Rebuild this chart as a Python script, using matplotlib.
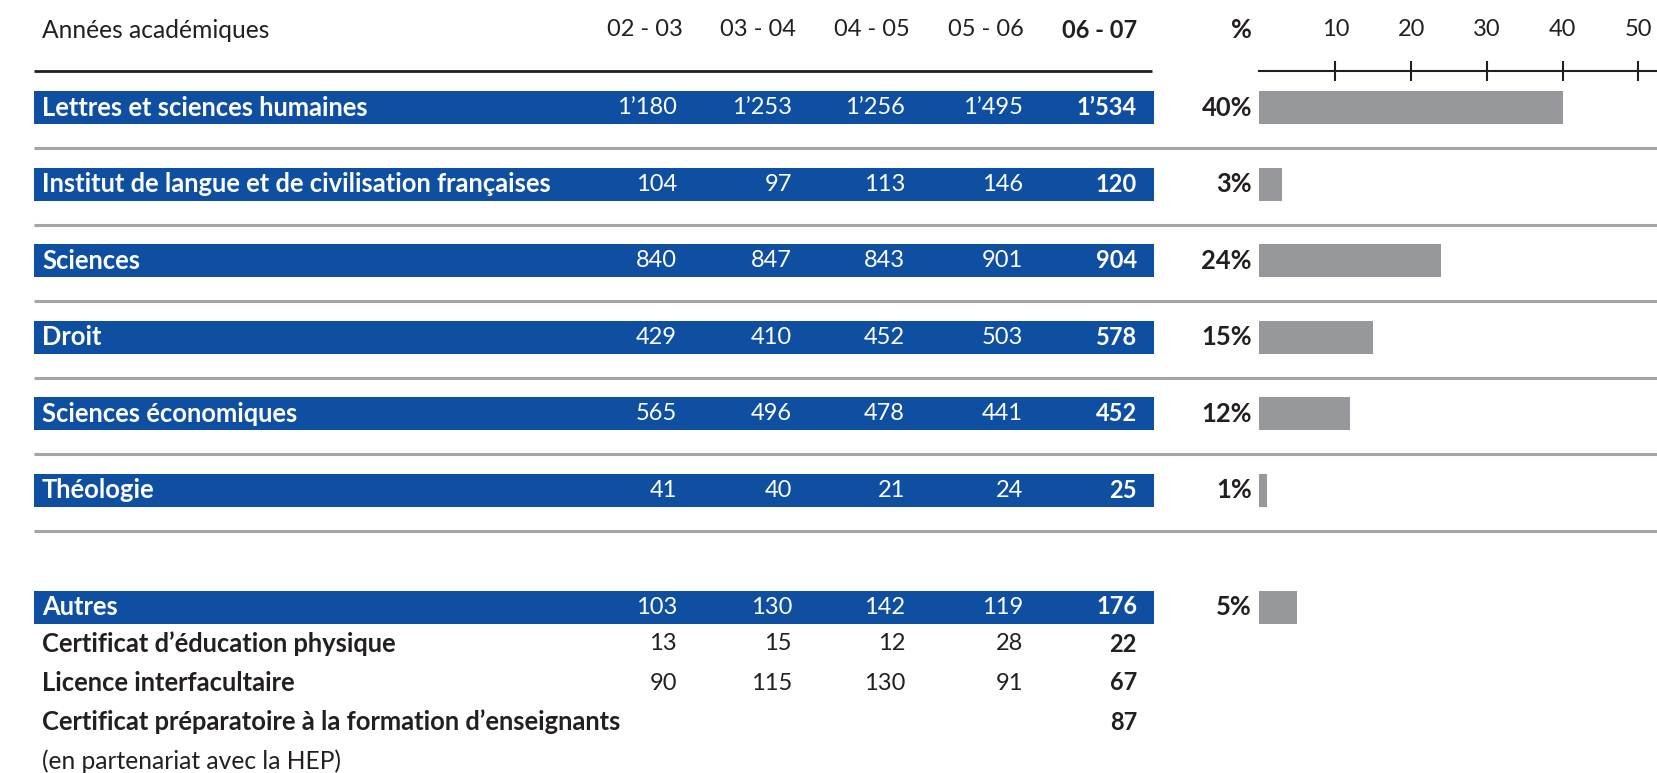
import matplotlib.pyplot as plt

plt.rcParams['font.family'] = ['Lato', 'DejaVu Sans']

years = ["02 - 03", "03 - 04", "04 - 05", "05 - 06", "06 - 07"]
faculties = ["Lettres et sciences humaines",
             "Institut de langue et de civilisation françaises",
             "Sciences", "Droit", "Sciences économiques", "Théologie"]
lettres = [1180, 1253, 1256, 1495, 1534]
ilcf = [104, 97, 113, 146, 120]
sciences = [840, 847, 843, 901, 904]
droit = [429, 410, 452, 503, 578]
hec = [565, 496, 478, 441, 452]
theologie = [41, 40, 21, 24, 25]
faculty_pct = [40, 3, 24, 15, 12, 1]

autres = [103, 130, 142, 119, 176]
autres_pct = 5
sub_labels = ["Certificat d’éducation physique", "Licence interfacultaire",
              "Certificat préparatoire à la formation d’enseignants"]
sub_values = [[13, 15, 12, 28, 22],
              [90, 115, 130, 91, 67],
              [None, None, None, None, 87]]
note = "(en partenariat avec la HEP)"
pct_ticks = [10, 20, 30, 40, 50]

blue = '#0f4fa2'
gray_bar = '#97989b'
gray_line = '#a4a5a8'
ink = '#231f20'

W, H = 1658, 773
fig = plt.figure(figsize=(W / 100, H / 100), dpi=100)
ax = fig.add_axes([0, 0, 1, 1])
ax.set_xlim(0, W)
ax.set_ylim(H, 0)
ax.axis('off')


def fmt(v):
    if v is None:
        return ""
    return f"{v:,}".replace(",", "’")


rows = [lettres, ilcf, sciences, droit, hec, theologie]
row_y = [107.5 + i * 76.6 for i in range(len(rows))]
autres_y = 607
sub_y = [644, 683, 722]
note_y = 761
col_x = [677, 792, 905, 1023, 1137]
head_x = [683, 796, 910, 1024, 1137]
label_x = 42
pct_x = 1252
fs_text = 17.7
fs_num = 17
fs_bold = 18.4
bold = 'bold'

# header
ax.text(label_x, 30, "Années académiques", fontsize=fs_text, color=ink, va='center')
for i, y in enumerate(years):
    ax.text(head_x[i], 30, y, fontsize=fs_num, color=ink, va='center', ha='right',
            fontweight=bold if i == len(years) - 1 else 'normal')
ax.text(pct_x, 30, "%", fontsize=fs_bold, color=ink, va='center', ha='right', fontweight=bold)
ax.hlines(71, 34, 1152, color=ink, lw=2)

# blue bands
band_y = row_y + [autres_y]
ax.barh(band_y, 1154 - 34, left=34, height=33, color=blue)
ax.hlines([y + 40.5 for y in row_y], 34, W, color=gray_line, lw=2.2)

for name, vals, y in zip(faculties + ["Autres"], rows + [autres], band_y):
    ax.text(label_x, y, name, fontsize=fs_bold, color='white', va='center', fontweight=bold)
    for i, v in enumerate(vals):
        ax.text(col_x[i], y, fmt(v), fontsize=fs_num, color='white', va='center', ha='right',
                fontweight=bold if i == len(vals) - 1 else 'normal')

for name, vals, y in zip(sub_labels, sub_values, sub_y):
    ax.text(label_x, y, name, fontsize=fs_bold, color=ink, va='center', fontweight=bold)
    for i, v in enumerate(vals):
        ax.text(col_x[i], y, fmt(v), fontsize=fs_num, color=ink, va='center', ha='right',
                fontweight=bold if i == len(vals) - 1 else 'normal')
ax.text(label_x, note_y, note, fontsize=fs_text, color=ink, va='center')

# percentage bars
all_pct = faculty_pct + [autres_pct]
for p, y in zip(all_pct, band_y):
    ax.text(pct_x, y, f"{p}%", fontsize=fs_bold, color=ink, va='center', ha='right', fontweight=bold)

x0 = 1259.5
px_per_pct = 7.58
axb = fig.add_axes([x0 / W, 0, (W - x0) / W, 1])
axb.set_ylim(H, 0)
axb.set_xlim(0, (W - x0) / px_per_pct)
axb.barh(band_y, all_pct, height=33, color=gray_bar)
for s in ['left', 'right', 'bottom']:
    axb.spines[s].set_visible(False)
axb.spines['top'].set_position(('data', 71))
axb.spines['top'].set_linewidth(1.5)
axb.spines['top'].set_color(ink)
axb.xaxis.tick_top()
axb.set_xticks(pct_ticks)
axb.set_yticks([])
axb.tick_params(axis='x', direction='inout', length=14, width=1.5, pad=15.5,
                labelsize=fs_num, colors=ink)
axb.patch.set_visible(False)

fig.savefig('out.png', dpi=100)
